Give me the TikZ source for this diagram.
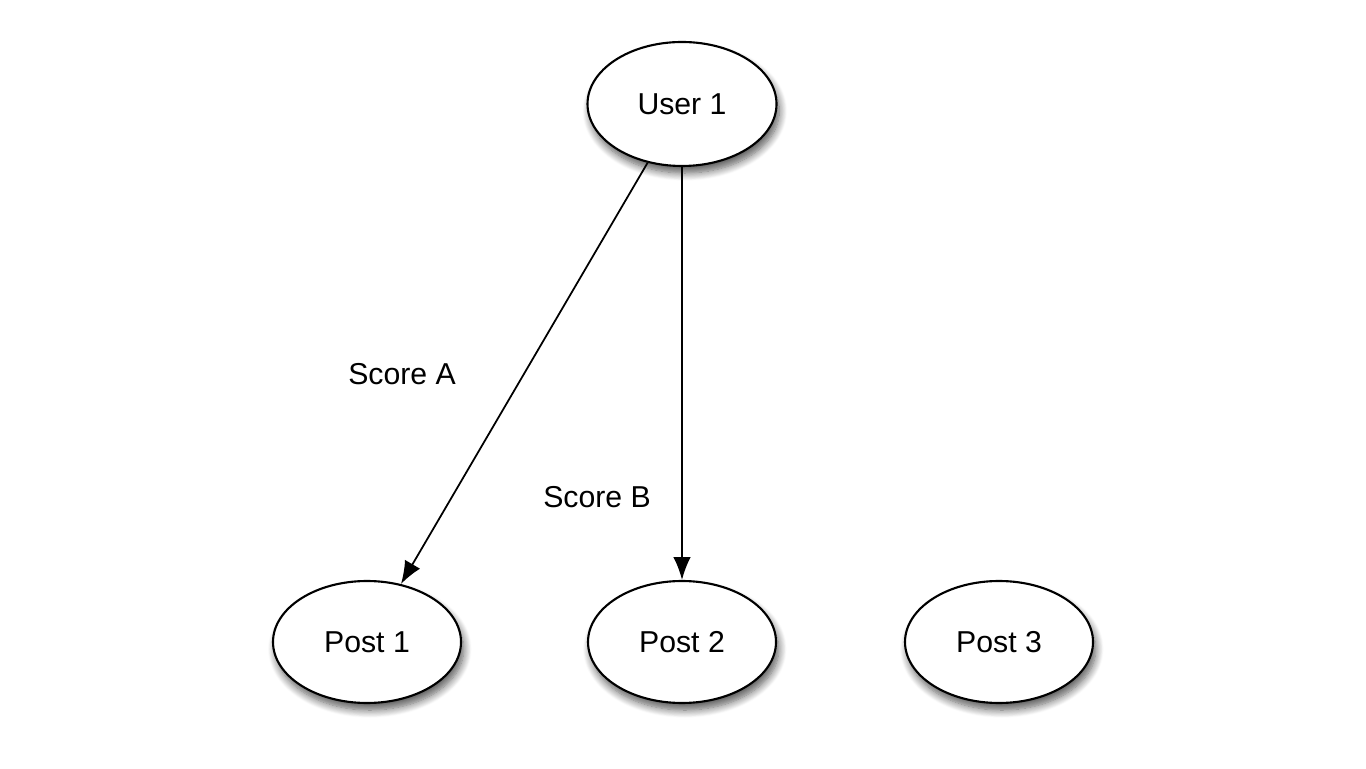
\documentclass[tikz,border=0pt]{standalone}
\usepackage{fontspec}
\setmainfont{Liberation Sans}
\usetikzlibrary{arrows.meta,shapes.geometric,shadows.blur}
\begin{document}
\begin{tikzpicture}[
  blob/.style={draw, line width=0.6pt, ellipse, fill=white, inner sep=0pt,
    minimum width=1.88cm, minimum height=1.22cm, font=\fontsize{8.6}{10}\selectfont,
    blur shadow={shadow xshift=0.8pt, shadow yshift=-2pt, shadow blur steps=10, shadow blur radius=2.2pt, shadow opacity=65}},
  link/.style={-{Latex[length=6.5pt,width=5pt]}, line width=0.5pt},
  score/.style={font=\fontsize{8.6}{10}\selectfont}
]
\useasboundingbox (0,0) rectangle (13.66,7.68);
\node [blob, minimum width=1.89cm, minimum height=1.24cm] (user1) at (6.82,6.64) {User 1};
\node [blob] (post1) at (3.67,1.26) {Post 1};
\node [blob] (post2) at (6.82,1.26) {Post 2};
\node [blob] (post3) at (9.99,1.26) {Post 3};
\draw [link] (user1) -- (post1);
\draw [link] (user1) -- (post2);
\node [score] (scoreA) at (4.02,3.94) {Score A};
\node [score] (scoreB) at (5.97,2.71) {Score B};
\end{tikzpicture}
\end{document}
